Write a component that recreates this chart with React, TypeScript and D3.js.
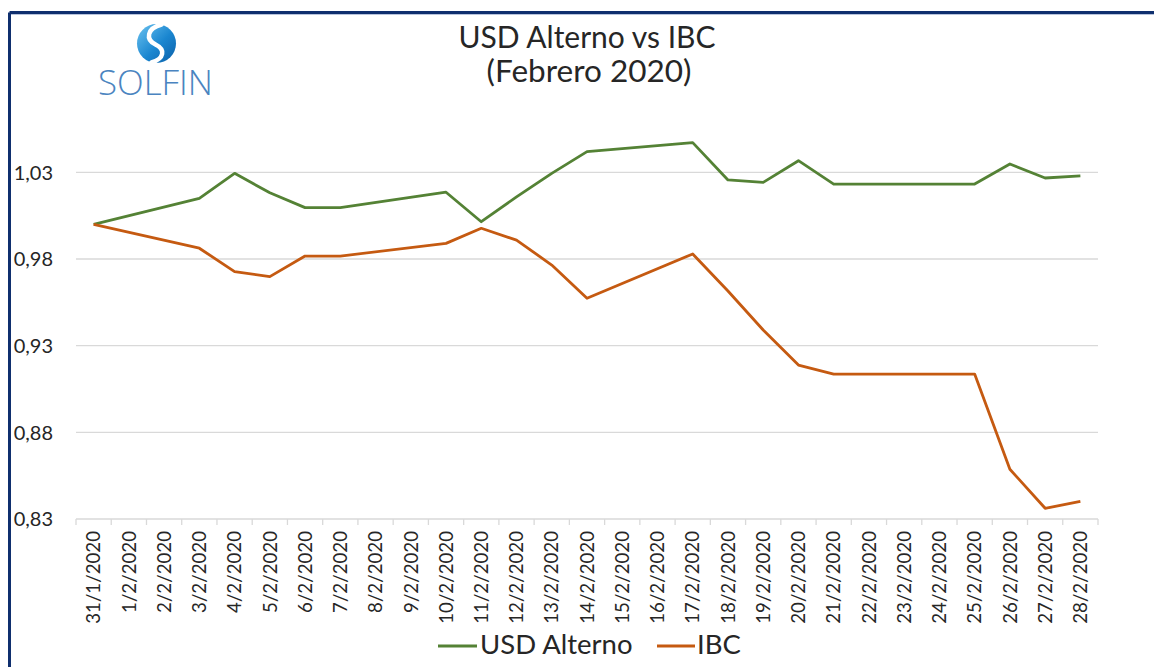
import React from "react";
import * as d3 from "d3";

const categories: string[] = [
  "31/1/2020", "1/2/2020", "2/2/2020", "3/2/2020", "4/2/2020", "5/2/2020", "6/2/2020",
  "7/2/2020", "8/2/2020", "9/2/2020", "10/2/2020", "11/2/2020", "12/2/2020", "13/2/2020",
  "14/2/2020", "15/2/2020", "16/2/2020", "17/2/2020", "18/2/2020", "19/2/2020", "20/2/2020",
  "21/2/2020", "22/2/2020", "23/2/2020", "24/2/2020", "25/2/2020", "26/2/2020", "27/2/2020",
  "28/2/2020",
];

// null = no quote that day (weekend); line connects across gaps
const usdAlterno: (number | null)[] = [
  1.0, null, null, 1.015, 1.0294, 1.0182, 1.0096,
  1.0096, null, null, 1.0185, 1.0015, 1.0158, 1.0294,
  1.0419, null, null, 1.0471, 1.0256, 1.0242, 1.0367,
  1.0232, null, null, 1.0232, 1.0232, 1.0348, 1.0267,
  1.0279,
];

const ibc: (number | null)[] = [
  1.0, null, null, 0.9862, 0.9727, 0.9698, 0.9817,
  0.9817, null, null, 0.989, 0.9977, 0.9909, 0.9765,
  0.9573, null, null, 0.9829, 0.9615, 0.939, 0.9188,
  0.9136, null, null, 0.9136, 0.9136, 0.8587, 0.8362,
  0.8402,
];

const yTicks: number[] = [0.83, 0.88, 0.93, 0.98, 1.03];
const seriesNames: string[] = ["USD Alterno", "IBC"];
const seriesColors: string[] = ["#548235", "#C55A11"];
const titleLines: string[] = ["USD Alterno vs IBC", "(Febrero 2020)"];

const W = 1154;
const H = 667;
const FONT = "Lato, 'Open Sans', sans-serif";
const TEXT = "#262626";

export default function App() {
  const x = d3.scaleBand<string>().domain(categories).range([76, 1098]).padding(0);
  const y = d3.scaleLinear().domain([0.83, 1.03]).range([519, 172.3]);
  const cx = (c: string) => (x(c) as number) + x.bandwidth() / 2;

  const line = d3
    .line<{ c: string; v: number }>()
    .x((d) => cx(d.c))
    .y((d) => y(d.v));

  const series = [usdAlterno, ibc].map((vals) =>
    categories
      .map((c, i) => ({ c, v: vals[i] }))
      .filter((d) => d.v !== null) as { c: string; v: number }[]
  );

  const tickXs = categories.map((c) => x(c) as number).concat([1098]);
  const fmt = (v: number) => v.toFixed(2).replace(".", ",");

  return (
    <svg
      width={W}
      height={H}
      style={{ position: "absolute", left: 0, top: 0, background: "#fff" }}
      fontFamily={FONT}
    >
      <defs>
        <linearGradient id="logoGrad" x1="0" y1="0" x2="1" y2="1">
          <stop offset="0%" stopColor="#6cc3f0" />
          <stop offset="55%" stopColor="#1a86d0" />
          <stop offset="100%" stopColor="#0b5fa8" />
        </linearGradient>
      </defs>

      {/* frame */}
      <rect x={0} y={0} width={W} height={H} fill="#fff" />
      <line x1={9.5} y1={12.5} x2={W} y2={12.5} stroke="#0f2f6e" strokeWidth={3} />
      <line x1={9.5} y1={12.5} x2={9.5} y2={H} stroke="#0f2f6e" strokeWidth={3} />
      <line x1={11} y1={14.5} x2={W} y2={14.5} stroke="#b8c4dc" strokeWidth={1} />

      {/* logo */}
      <g transform="translate(156.5,43.5)">
        <circle r={19.5} fill="url(#logoGrad)" />
        <path
          d="M 5,-19 C -10,-15 -11,-4 -1,1 C 9,6 8,15 -5,19"
          fill="none"
          stroke="#fff"
          strokeWidth={4.5}
          strokeLinecap="round"
        />
      </g>
      <text
        x={98}
        y={95}
        fontSize={34}
        fontWeight={300}
        fill="#4a84c0"
        textLength={115}
        lengthAdjust="spacingAndGlyphs"
        fontFamily="'Open Sans', Lato, sans-serif"
      >
        SOLFIN
      </text>

      {/* title */}
      <text x={587} y={48} textAnchor="middle" fontSize={30} fill={TEXT}>
        {titleLines[0]}
      </text>
      <text x={589} y={82} textAnchor="middle" fontSize={31.5} fill={TEXT}>
        {titleLines[1]}
      </text>

      {/* gridlines */}
      {yTicks.map((t) => (
        <line key={t} x1={76} x2={1098} y1={y(t)} y2={y(t)} stroke="#d9d9d9" strokeWidth={1.3} />
      ))}
      {/* y labels */}
      {yTicks.map((t) => (
        <text key={"l" + t} x={53} y={y(t)} dy="0.36em" textAnchor="end" fontSize={20} fill={TEXT}>
          {fmt(t)}
        </text>
      ))}

      {/* x axis ticks */}
      {tickXs.map((tx, i) => (
        <line key={"t" + i} x1={tx} x2={tx} y1={y(0.83)} y2={y(0.83) + 6} stroke="#d9d9d9" strokeWidth={1.3} />
      ))}
      {categories.map((c) => (
        <text
          key={"x" + c}
          transform={`translate(${cx(c)},531) rotate(-90)`}
          dy="0.36em"
          textAnchor="end"
          fontSize={18.7}
          fill={TEXT}
        >
          {c}
        </text>
      ))}

      {/* lines */}
      {series.map((s, i) => (
        <path
          key={"s" + i}
          d={line(s) as string}
          fill="none"
          stroke={seriesColors[i]}
          strokeWidth={2.8}
          strokeLinejoin="round"
        />
      ))}

      {/* legend */}
      <line x1={438} x2={477} y1={646} y2={646} stroke={seriesColors[0]} strokeWidth={2.8} />
      <text x={480} y={654} fontSize={27.5} fill={TEXT}>
        {seriesNames[0]}
      </text>
      <line x1={657} x2={695} y1={646} y2={646} stroke={seriesColors[1]} strokeWidth={2.8} />
      <text x={697} y={654} fontSize={27.5} fill={TEXT}>
        {seriesNames[1]}
      </text>
    </svg>
  );
}
